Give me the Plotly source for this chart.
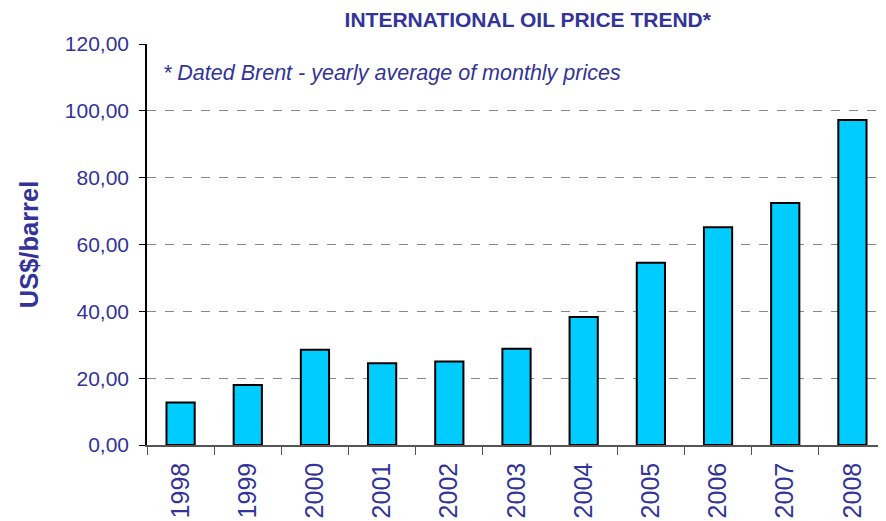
import plotly.graph_objects as go

years = ["1998", "1999", "2000", "2001", "2002", "2003", "2004", "2005", "2006", "2007", "2008"]
prices = [12.72, 17.97, 28.50, 24.44, 25.02, 28.83, 38.27, 54.52, 65.14, 72.39, 97.26]
y_ticks = [0, 20, 40, 60, 80, 100, 120]

TXT = "#333399"

fig = go.Figure(go.Bar(
    x=years, y=prices,
    marker=dict(color="#00CCFF", line=dict(color="#000000", width=2)),
    width=0.42,
))

# page body has an 8px margin, so the figure is sized to the remaining area
fig.update_layout(
    width=878, height=513,
    margin=dict(l=139, r=0, t=36, b=76),
    plot_bgcolor="white", paper_bgcolor="white",
    separators=",.",
    showlegend=False,
    font=dict(family="Liberation Sans, Arial, sans-serif", color=TXT),
    title=dict(text="<b>INTERNATIONAL OIL PRICE TREND*</b>", x=0.592, xanchor="center",
               y=0.977, yanchor="middle", font=dict(size=21, color=TXT)),
    annotations=[dict(text="<i>* Dated Brent - yearly average of monthly prices</i>",
                      xref="paper", yref="paper", x=0.019, y=0.928, xanchor="left", yanchor="middle",
                      showarrow=False, font=dict(size=21.5, color=TXT))],
)

fig.update_xaxes(
    type="category", tickangle=-90, tickfont=dict(size=25, color=TXT),
    showline=True, linecolor="#555555", linewidth=1.5,
    ticks="outside", tickson="boundaries", ticklen=8, tickcolor="#555555",
    ticklabelstandoff=6,
    showgrid=False, range=[-0.5, 10.5], automargin=False,
)
fig.update_yaxes(
    range=[0, 120], tickvals=y_ticks, tickformat=".2f",
    tickfont=dict(size=21, color=TXT),
    showline=True, linecolor="#000000", linewidth=1.5,
    ticks="outside", ticklen=6, tickcolor="#000000",
    ticklabelstandoff=6,
    showgrid=True, gridcolor="#888888", griddash="dash", gridwidth=1,
    zeroline=False, automargin=False,
    title=dict(text="<b>US$/barrel</b>", font=dict(size=25.5, color=TXT), standoff=19),
)

fig.write_html("out.html")
